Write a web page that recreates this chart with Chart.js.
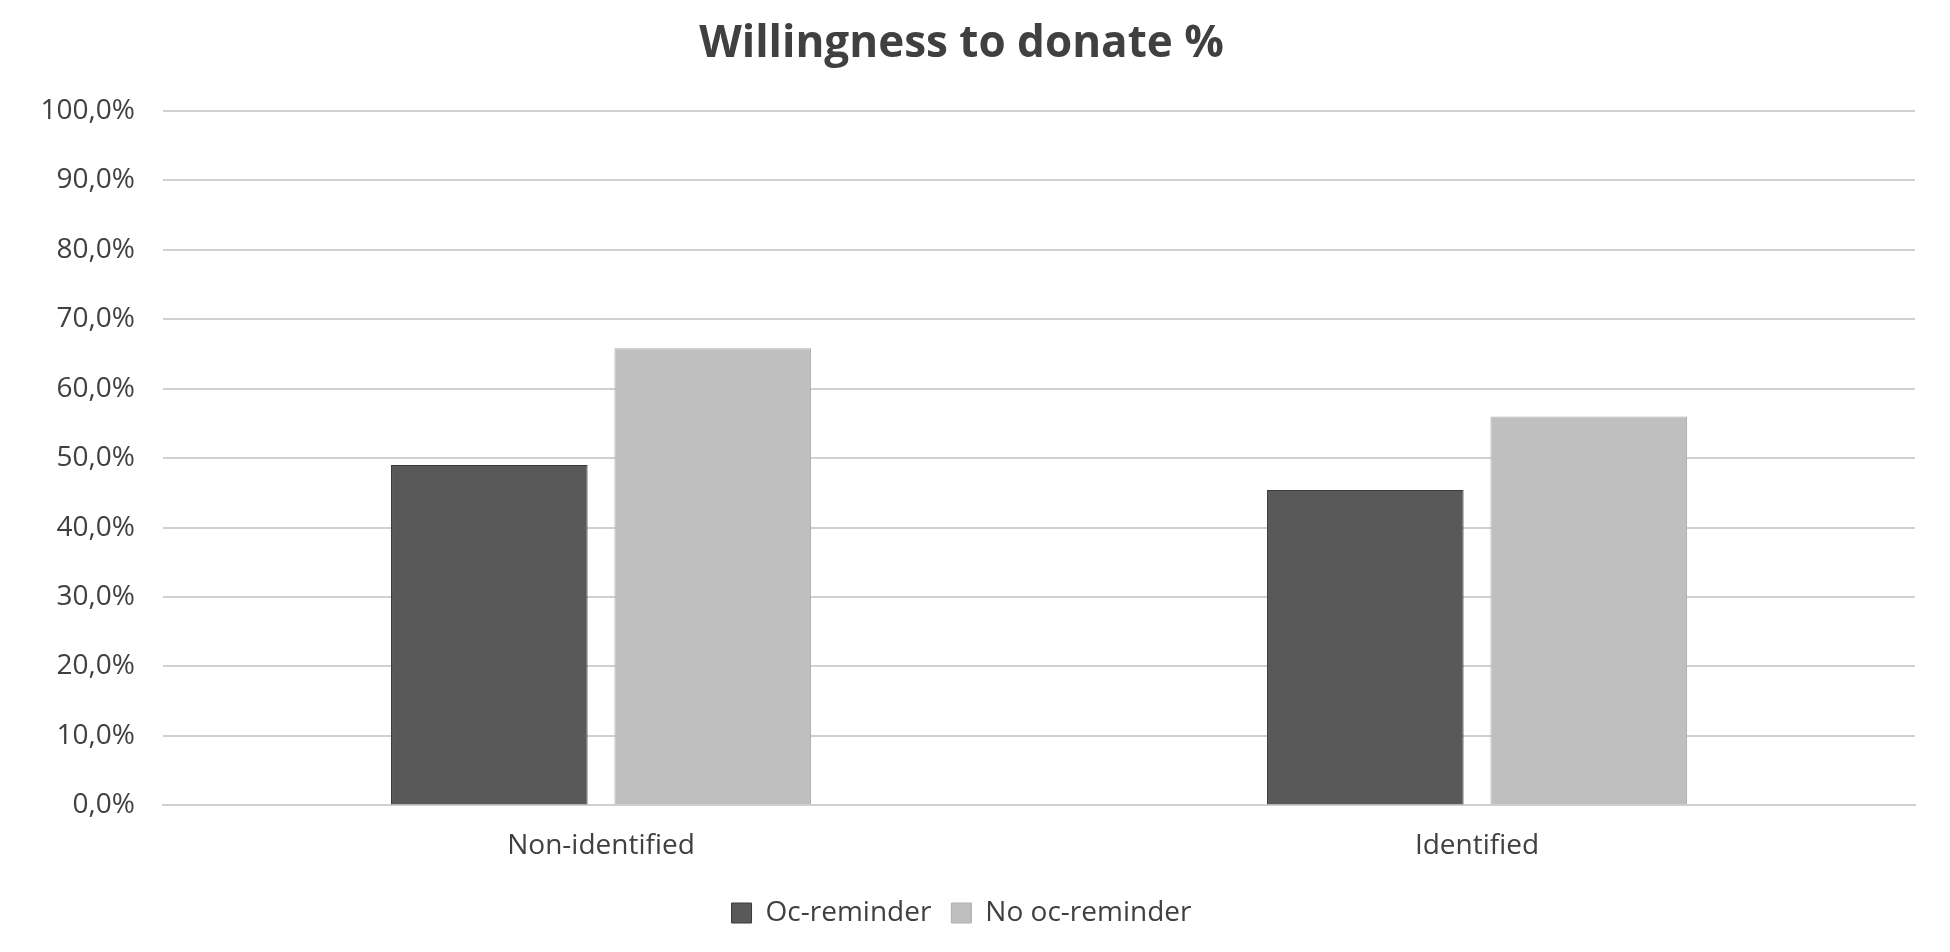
<!DOCTYPE html>
<html><head><meta charset="utf-8">
<script src="https://cdn.jsdelivr.net/npm/chart.js@4"></script>
<style>html,body{margin:0;background:#fff}#w{width:1950px;height:952px}</style>
</head><body><div id="w"><canvas id="c"></canvas></div>
<script>
const categories = ["Non-identified", "Identified"];
const ocReminder = [49.0, 45.4];
const noOcReminder = [65.8, 56.0];
const yTicks = [0,10,20,30,40,50,60,70,80,90,100];
const F = "'Open Sans', 'DejaVu Sans', sans-serif";
new Chart(document.getElementById('c'), {
  type: 'bar',
  data: { labels: categories, datasets: [
    { label: 'Oc-reminder', data: ocReminder, backgroundColor: '#595959', borderColor:'#3a3a3a', borderWidth:1, barPercentage: 0.88, categoryPercentage: 0.51 },
    { label: 'No oc-reminder', data: noOcReminder, backgroundColor: '#bfbfbf', borderColor:'#b0b0b0', borderWidth:1, barPercentage: 0.88, categoryPercentage: 0.51 }
  ]},
  options: {
    responsive: true, maintainAspectRatio: false, animation: false,
    layout: { padding: { left: 8, right: 35, top: 10, bottom: 15 } },
    plugins: {
      title: { display: true, text: 'Willingness to donate %', color: '#404040', font: { family: F, size: 44 }, padding: { top: 8, bottom: 40 } },
      legend: { position: 'bottom', labels: { color: '#404040', font: { family: F, size: 28 }, boxWidth: 20, boxHeight: 20, padding: 20 } },
      tooltip: { enabled: false }
    },
    scales: {
      x: { grid: { display: false }, border: { color: '#d0d0d0', width: 2 },
           ticks: { color: '#404040', font: { family: F, size: 28 }, padding: 16 } },
      y: { min: 0, max: 100, afterBuildTicks: a => { a.ticks = yTicks.map(v => ({ value: v })); },
           afterFit: a => { a.width = 155; },
           grid: { color: '#d0d0d0', lineWidth: 2, drawTicks: false }, border: { display: false },
           ticks: { color: '#404040', font: { family: F, size: 28 }, padding: 28, callback: v => v.toFixed(1).replace('.', ',') + '%' } }
    }
  }
});
</script></body></html>
